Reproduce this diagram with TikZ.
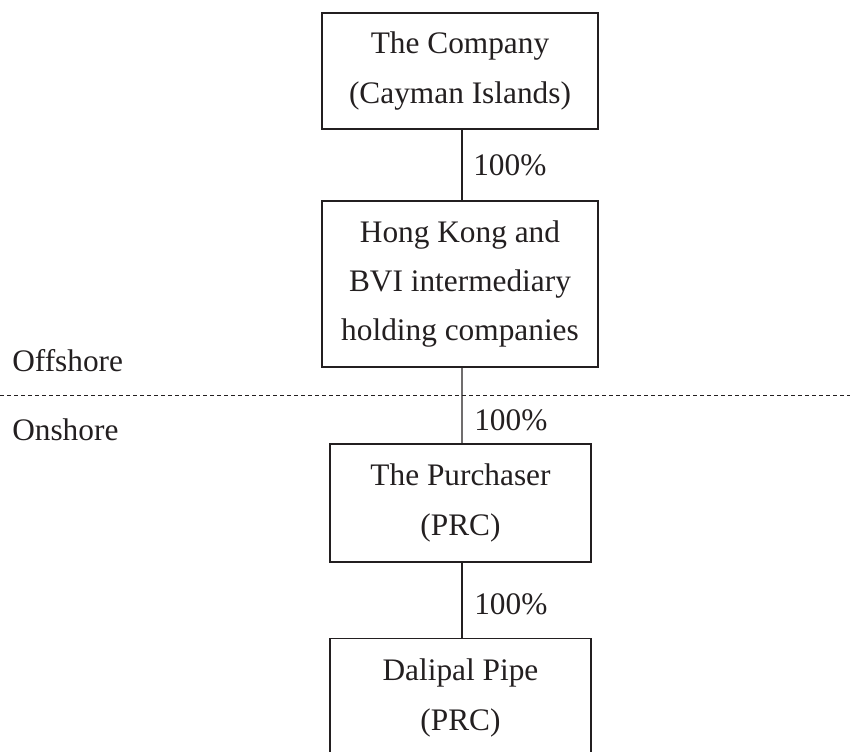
\documentclass[tikz,border=0pt]{standalone}
\usepackage{fontspec}
\setmainfont{Liberation Serif}
\definecolor{ink}{HTML}{231F20}
\begin{document}
\begin{tikzpicture}[x=0.75pt,y=-0.75pt,
  entity/.style={draw=ink, line width=1.2pt, text=ink, align=center, inner sep=0pt,
    font=\fontsize{23.5}{37.5}\selectfont, minimum width=#1},
  entity/.default={207pt},
  share/.style={text=ink, inner sep=0pt, anchor=west, font=\fontsize{23.5}{28}\selectfont},
  link/.style={draw=ink, line width=0.8pt},
  zone/.style={text=ink, inner sep=0pt, anchor=west, font=\fontsize{23.5}{28}\selectfont}]
\useasboundingbox (0,0) rectangle (850,752);
\begin{scope}
\clip (0,0) rectangle (850,752);
\node[entity, minimum height=87pt] (co) at (460,71) {The Company\\(Cayman Islands)};
\node[entity, minimum height=124.5pt, font=\fontsize{23.5}{36.75}\selectfont] (hk) at (460,284) {Hong Kong and\\BVI intermediary\\holding companies};
\node[entity=196pt, minimum height=88.5pt] (pu) at (460.5,503) {The Purchaser\\(PRC)};
\node[entity=196pt, minimum height=88.5pt] (dp) at (460.5,697.5) {Dalipal Pipe\\(PRC)};
\draw[link] ([xshift=1.5pt]co.south) -- ([xshift=1.5pt]hk.north);
\draw[link] ([xshift=1.5pt]hk.south) -- ([xshift=1.1pt]pu.north);
\draw[link] ([xshift=1.1pt]pu.south) -- ([xshift=1.1pt]dp.north);
\coordinate (dl) at (0,395);
\coordinate (dr) at (850,395);
\draw[draw=ink, line width=0.7pt, dash pattern=on 3pt off 2.25pt] (dl) -- (dr);
\node[share] (s1) at (473,165) {100\%};
\node[share] (s2) at (474,420) {100\%};
\node[share] (s3) at (474,604) {100\%};
\node[zone] (off) at (12,361) {Offshore};
\node[zone] (on) at (12,430) {Onshore};
\end{scope}
\end{tikzpicture}
\end{document}
